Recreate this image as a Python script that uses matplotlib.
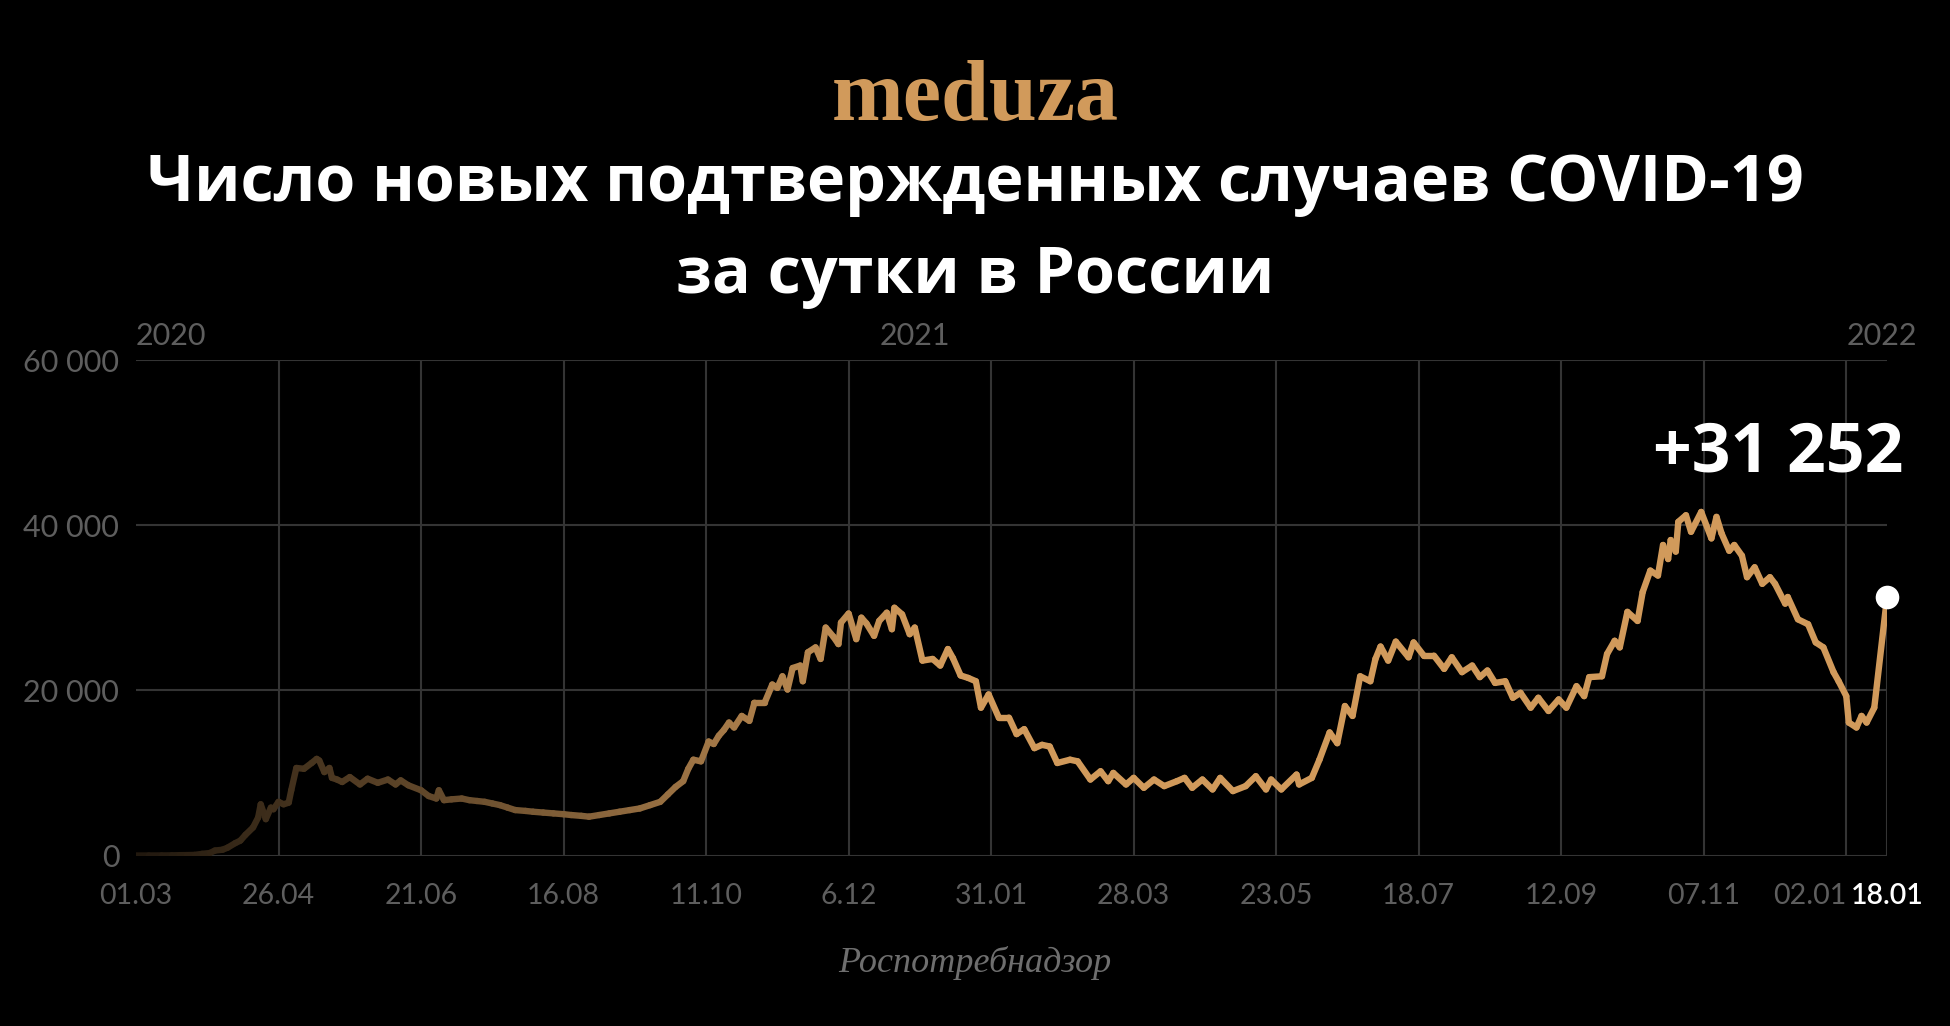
import numpy as np
import pandas as pd
import matplotlib.pyplot as plt
import matplotlib.dates as mdates
import matplotlib.transforms as mtransforms
from matplotlib.collections import LineCollection
from matplotlib.colors import to_rgb

# Новые случаи COVID-19 за сутки
dates_2020 = ['2020-03-01', '2020-03-06', '2020-03-11', '2020-03-15', '2020-03-18', '2020-03-21',
              '2020-03-24', '2020-03-27', '2020-03-30', '2020-04-01', '2020-04-04', '2020-04-06',
              '2020-04-09', '2020-04-11', '2020-04-13', '2020-04-16', '2020-04-18', '2020-04-19',
              '2020-04-21', '2020-04-23', '2020-04-24', '2020-04-26', '2020-04-28', '2020-04-30',
              '2020-05-01', '2020-05-03', '2020-05-06', '2020-05-09', '2020-05-11', '2020-05-12',
              '2020-05-14', '2020-05-16', '2020-05-17', '2020-05-19', '2020-05-21', '2020-05-24',
              '2020-05-28', '2020-05-31', '2020-06-04', '2020-06-08', '2020-06-11', '2020-06-13',
              '2020-06-16', '2020-06-21', '2020-06-24', '2020-06-27', '2020-06-28', '2020-06-30',
              '2020-07-03', '2020-07-07', '2020-07-10', '2020-07-13', '2020-07-16', '2020-07-19',
              '2020-07-22', '2020-07-25', '2020-07-28', '2020-08-01', '2020-08-04', '2020-08-08',
              '2020-08-12', '2020-08-16', '2020-08-19', '2020-08-23', '2020-08-26', '2020-08-30',
              '2020-09-03', '2020-09-07', '2020-09-11', '2020-09-15', '2020-09-19', '2020-09-23',
              '2020-09-26', '2020-09-29', '2020-10-02', '2020-10-04', '2020-10-06', '2020-10-09',
              '2020-10-12', '2020-10-14', '2020-10-16', '2020-10-18', '2020-10-20', '2020-10-22',
              '2020-10-25', '2020-10-28', '2020-10-30', '2020-11-03', '2020-11-06', '2020-11-08',
              '2020-11-10', '2020-11-12', '2020-11-14', '2020-11-17', '2020-11-18', '2020-11-20',
              '2020-11-23', '2020-11-25', '2020-11-27', '2020-11-30', '2020-12-02', '2020-12-03',
              '2020-12-06', '2020-12-09', '2020-12-11', '2020-12-13', '2020-12-16', '2020-12-18',
              '2020-12-21', '2020-12-23', '2020-12-24', '2020-12-27', '2020-12-30']
cases_2020 = [0, 2, 8, 20, 40, 50,
              70, 200, 300, 600, 700, 950,
              1500, 1800, 2500, 3400, 4600, 6200,
              4400, 5800, 5600, 6500, 6200, 6400,
              7900, 10600, 10500, 11200, 11700, 11500,
              10100, 10600, 9400, 9200, 8900, 9500,
              8600, 9300, 8800, 9200, 8600, 9100,
              8500, 7900, 7200, 6900, 7900, 6700,
              6800, 6900, 6700, 6600, 6500, 6300,
              6100, 5800, 5500, 5400, 5300, 5200,
              5100, 5000, 4900, 4800, 4700, 4900,
              5100, 5300, 5500, 5700, 6100, 6500,
              7400, 8300, 9000, 10500, 11600, 11400,
              13800, 13500, 14500, 15200, 16100, 15500,
              16900, 16300, 18500, 18500, 20700, 20300,
              21700, 20100, 22700, 23000, 21100, 24600,
              25200, 23800, 27600, 26500, 25600, 28200,
              29300, 26200, 28800, 28100, 26600, 28400,
              29400, 27400, 30000, 29200, 26800]

dates_2021 = ['2021-01-01', '2021-01-04', '2021-01-08', '2021-01-11', '2021-01-14', '2021-01-16',
              '2021-01-19', '2021-01-22', '2021-01-25', '2021-01-27', '2021-01-30', '2021-02-03',
              '2021-02-07', '2021-02-10', '2021-02-13', '2021-02-17', '2021-02-20', '2021-02-23',
              '2021-02-26', '2021-03-03', '2021-03-06', '2021-03-11', '2021-03-15', '2021-03-18',
              '2021-03-20', '2021-03-25', '2021-03-28', '2021-04-01', '2021-04-05', '2021-04-09',
              '2021-04-14', '2021-04-17', '2021-04-20', '2021-04-24', '2021-04-28', '2021-05-01',
              '2021-05-06', '2021-05-11', '2021-05-15', '2021-05-19', '2021-05-21', '2021-05-25',
              '2021-05-31', '2021-06-01', '2021-06-06', '2021-06-09', '2021-06-13', '2021-06-16',
              '2021-06-19', '2021-06-22', '2021-06-25', '2021-06-29', '2021-07-01', '2021-07-03',
              '2021-07-06', '2021-07-09', '2021-07-14', '2021-07-16', '2021-07-20', '2021-07-24',
              '2021-07-28', '2021-07-31', '2021-08-04', '2021-08-08', '2021-08-11', '2021-08-14',
              '2021-08-17', '2021-08-21', '2021-08-24', '2021-08-27', '2021-08-31', '2021-09-03',
              '2021-09-07', '2021-09-11', '2021-09-14', '2021-09-18', '2021-09-21', '2021-09-23',
              '2021-09-28', '2021-09-30', '2021-10-03', '2021-10-05', '2021-10-08', '2021-10-12',
              '2021-10-14', '2021-10-17', '2021-10-20', '2021-10-22', '2021-10-24', '2021-10-25',
              '2021-10-27', '2021-10-28', '2021-10-31', '2021-11-02', '2021-11-06', '2021-11-10',
              '2021-11-12', '2021-11-14', '2021-11-17', '2021-11-19', '2021-11-22', '2021-11-24',
              '2021-11-27', '2021-11-30', '2021-12-03', '2021-12-05', '2021-12-09', '2021-12-10',
              '2021-12-14', '2021-12-18', '2021-12-21', '2021-12-24', '2021-12-28', '2021-12-30']
cases_2021 = [27600, 23600, 23800, 23000, 25000, 23900,
              21800, 21500, 21100, 17900, 19500, 16700,
              16700, 14700, 15300, 13000, 13400, 13200,
              11200, 11600, 11400, 9200, 10200, 9000,
              10000, 8600, 9400, 8200, 9200, 8400,
              9000, 9400, 8200, 9200, 8000, 9400,
              7800, 8400, 9600, 8000, 9200, 8000,
              9800, 8600, 9400, 11600, 14900, 13600,
              18100, 16900, 21700, 21100, 23800, 25300,
              23600, 25900, 24000, 25800, 24200, 24200,
              22600, 24000, 22200, 23000, 21600, 22400,
              20900, 21100, 19100, 19700, 17900, 19100,
              17500, 18900, 17900, 20500, 19300, 21600,
              21700, 24400, 26000, 25200, 29500, 28400,
              31900, 34500, 33900, 37600, 35900, 38200,
              36800, 40400, 41200, 39200, 41600, 38400,
              41000, 39000, 36900, 37600, 36300, 33700,
              34900, 32900, 33700, 32900, 30500, 31300,
              28600, 28000, 25800, 25200, 22200, 21100]

dates_2022 = ['2022-01-02', '2022-01-03', '2022-01-06', '2022-01-08', '2022-01-10', '2022-01-13',
              '2022-01-18']
cases_2022 = [19300, 16100, 15500, 16900, 16100, 17900, 31252]

# Подписи осей
tick_dates = ['2020-03-01', '2020-04-26', '2020-06-21', '2020-08-16', '2020-10-11', '2020-12-06',
              '2021-01-31', '2021-03-28', '2021-05-23', '2021-07-18', '2021-09-12', '2021-11-07',
              '2022-01-02', '2022-01-18']
tick_labels = ['01.03', '26.04', '21.06', '16.08', '11.10', '6.12', '31.01', '28.03', '23.05',
               '18.07', '12.09', '07.11', '02.01', '18.01']
y_ticks = [0, 20000, 40000, 60000]
y_labels = ['0', '20 000', '40 000', '60 000']

GOLD = '#D19A5B'
GRID = '#343434'
GRAY = '#5e5e5e'
W, H = 1950, 1026
TICK_FONT = ['Lato', 'DejaVu Sans']

plt.rcParams['font.family'] = ['Open Sans', 'DejaVu Sans']

fig = plt.figure(figsize=(W / 100, H / 100), dpi=100, facecolor='black')
ax = fig.add_axes([136 / W, 1 - 855.5 / H, (1887 - 136) / W, (855.5 - 360) / H])
ax.set_facecolor('black')

dates = pd.to_datetime(dates_2020 + dates_2021 + dates_2022)
cases = np.array(cases_2020 + cases_2021 + cases_2022, dtype=float)
x = mdates.date2num(dates)
ticks_x = mdates.date2num(pd.to_datetime(tick_dates))

ax.set_xlim(x[0], x[-1])
ax.set_ylim(0, 60000)

# сетка
ax.hlines(y_ticks, x[0], x[-1], color=GRID, lw=1.5, zorder=1)
ax.vlines(ticks_x[1:-1], 0, 60000, color=GRID, lw=1.5, zorder=1)
ax.vlines(x[-1], 0, cases[-1], color=GRID, lw=1.5, zorder=1)

# линия с градиентом от тёмного к золотому
pts = np.column_stack([x, cases])
segs = np.stack([pts[:-1], pts[1:]], axis=1)
mid = (x[:-1] + x[1:]) / 2
t = np.clip((mid - x[0]) / (mdates.date2num(pd.Timestamp('2021-01-05')) - x[0]), 0, 1)
a = 0.15 + 0.85 * t
gold = np.array(to_rgb(GOLD))
cols = a[:, None] * gold[None, :]
lc = LineCollection(segs, colors=cols, linewidths=4.6, capstyle='round', joinstyle='round', zorder=3)
ax.add_collection(lc)

ax.plot(x[-1], cases[-1], 'o', ms=17, color='white', mec='none', zorder=5, clip_on=False)

for s in ax.spines.values():
    s.set_visible(False)
ax.tick_params(length=0)
ax.set_yticks(y_ticks)
ax.set_yticklabels(y_labels, fontsize=22, color=GRAY, family=TICK_FONT)
ax.tick_params(axis='y', pad=12)
ax.set_xticks(ticks_x)
ax.set_xticklabels(tick_labels, fontsize=20.5, color=GRAY, family=TICK_FONT)
ax.tick_params(axis='x', pad=20)
xl = ax.get_xticklabels()
xl[-2].set_ha('right')
xl[-1].set_color('white')
xl[-1].set_fontweight('semibold')

# годы над графиком
blend = mtransforms.blended_transform_factory(ax.transData, fig.transFigure)
ax.text(x[0], 1 - 345 / H, '2020', transform=blend, ha='left', va='baseline',
        fontsize=22, color=GRAY, family=TICK_FONT)
ax.text(mdates.date2num(pd.Timestamp('2021-01-01')), 1 - 345 / H, '2021', transform=blend,
        ha='center', va='baseline', fontsize=22, color=GRAY, family=TICK_FONT)
fig.text(1917 / W, 1 - 345 / H, '2022', ha='right', va='baseline', fontsize=22, color=GRAY,
         family=TICK_FONT)

# подпись последнего значения
fig.text(1778 / W, 1 - 472 / H, '+31 252', ha='center', va='baseline', fontsize=49,
         color='white', fontweight='bold')

# логотип и заголовок
fig.text(975 / W, 1 - 120 / H, 'meduza', ha='center', va='baseline', fontsize=62,
         color=GOLD, fontweight='bold', family=['Liberation Serif', 'DejaVu Serif'])
fig.text(975 / W, 1 - 201 / H, 'Число новых подтвержденных случаев COVID-19', ha='center',
         va='baseline', fontsize=46.5, color='white', fontweight='bold')
fig.text(975 / W, 1 - 293 / H, 'за сутки в России', ha='center', va='baseline', fontsize=46.5,
         color='white', fontweight='bold')

# источник
fig.text(975 / W, 1 - 972 / H, 'Роспотребнадзор', ha='center', va='baseline', fontsize=26,
         color='#6e6e6e', style='italic', family=['Liberation Serif', 'DejaVu Serif'])

plt.savefig('out.png', dpi=100, facecolor='black')
